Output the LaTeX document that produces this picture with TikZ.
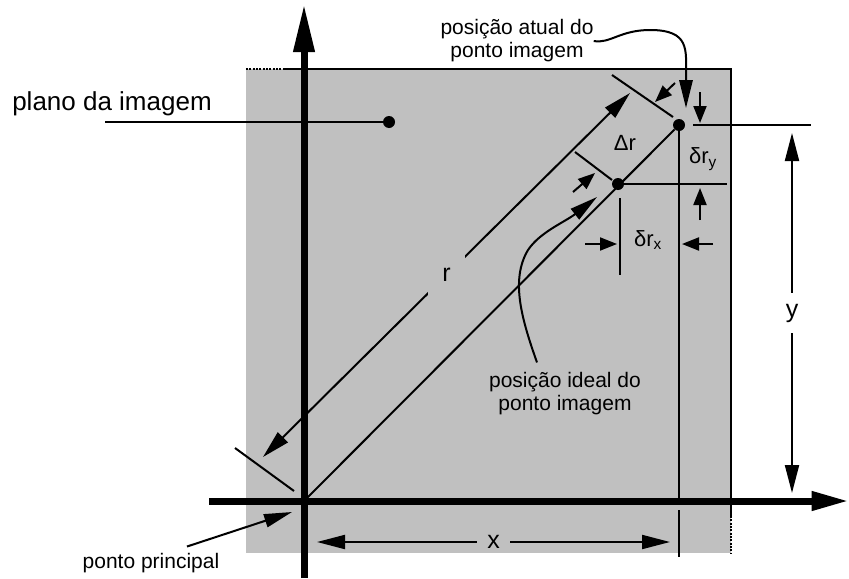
\documentclass[tikz,border=0pt]{standalone}
\usepackage{fontspec}
\setmainfont{Liberation Sans}
\usetikzlibrary{arrows.meta, calc}
\usepackage{xcolor}
\definecolor{planegray}{HTML}{C0C0C0}

\begin{document}
\begin{tikzpicture}[
      x=0.75pt, y=-0.75pt,
      every node/.style={font=\fontsize{15.75}{17.25}\selectfont, inner sep=0pt},
      fine/.style={line width=1.5pt},
      axisline/.style={line width=5.25pt},
      dimline/.style={fine, {Triangle[length=21pt, width=10.5pt]}-{Triangle[length=21pt, width=10.5pt]}},
      callout/.style={fine, -{Triangle[length=21pt, width=10pt]}},
      smallarrow/.style={fine, -{Triangle[length=12.75pt, width=9.75pt]}},
      dot/.style={circle, fill, minimum size=9pt},
      dimlabel/.style={font=\fontsize{18.75}{20}\selectfont},
      deltalabel/.style={font=\fontsize{16.5}{18}\selectfont},
    ]
    \useasboundingbox (0,0) rectangle (849,578);
    \fill[planegray] (246,69) rectangle (731,553);
    \draw[fine] (283,69) -- (731,69) -- (731,516);
    \draw[fine, densely dotted] (246,69) -- (283,69);
    \draw[fine, densely dotted] (731,516) -- (731,553);

    \coordinate (O) at (304,501);
    \coordinate (xstart) at (209,501);
    \coordinate (xend) at (849,501);
    \coordinate (ystart) at (304,578);
    \coordinate (yend) at (304,4);
    \draw[axisline, -{Triangle[length=28pt, width=13.5pt]}] (xstart) -- (xend);
    \draw[axisline, -{Triangle[length=36pt, width=15pt]}] (ystart) -- (yend);

    \node[dot] (actual) at (679,125) {};
    \node[dot] (ideal)  at (618,184) {};
    \node[dot] (plane)  at (389,122) {};
    \draw[fine] (O) -- (actual);

    \coordinate (tickOa) at (235,448);
    \coordinate (tickOb) at (294,491);
    \coordinate (tickAa) at (612,75);
    \coordinate (tickAb) at (673,117);
    \coordinate (tickIa) at (575,152);
    \coordinate (tickIb) at (612,180);
    \draw[fine] (tickOa) -- (tickOb);
    \draw[fine] (tickAa) -- (tickAb);
    \draw[fine] (tickIa) -- (tickIb);

    \coordinate (rlow)  at (263,457);
    \coordinate (rhigh) at (630,93);
    \draw[dimline] (rlow) -- (rhigh)
      node[midway, dimlabel, fill=planegray, inner xsep=11pt, inner ysep=10pt] (rlbl) {r};

    \coordinate (xdimL) at (317,542);
    \coordinate (xdimR) at (670,542);
    \draw[dimline] (xdimL) -- (xdimR)
      node[midway, dimlabel, fill=planegray, inner xsep=8pt, inner ysep=1pt] (xlbl) {x};

    \coordinate (ydimT) at (792,133);
    \coordinate (ydimB) at (792,493);
    \draw[dimline] (ydimT) -- (ydimB)
      node[midway, dimlabel, fill=white, inner xsep=1pt, inner ysep=8pt] (ylbl) {y};

    \coordinate (actualext)    at (693,125);
    \coordinate (actualextend) at (811,125);
    \coordinate (idealext)     at (727,184);
    \coordinate (idealdrop)    at (620,198);
    \coordinate (idealdropend) at (620,275);
    \coordinate (actualfoot)   at (679,501);
    \coordinate (xticka)       at (679,510);
    \coordinate (xtickb)       at (679,557);
    \draw[fine] (actualext) -- (actualextend);
    \draw[fine] (ideal) -- (idealext);
    \draw[fine] (idealdrop) -- (idealdropend);
    \draw[fine] (actual) -- (actualfoot);
    \draw[fine] (xticka) -- (xtickb);

    \coordinate (dya) at (700,92);
    \coordinate (dyb) at (700,123);
    \coordinate (dyc) at (700,220);
    \coordinate (dyd) at (700,188);
    \coordinate (dxa) at (585,244);
    \coordinate (dxb) at (617,244);
    \coordinate (dxc) at (713,244);
    \coordinate (dxd) at (682,244);
    \coordinate (dra) at (675,83);
    \coordinate (drb) at (655,102);
    \coordinate (drc) at (573,192);
    \coordinate (drd) at (595,173);
    \draw[smallarrow] (dya) -- (dyb);
    \draw[smallarrow] (dyc) -- (dyd);
    \draw[smallarrow] (dxa) -- (dxb);
    \draw[smallarrow] (dxc) -- (dxd);
    \draw[smallarrow] (dra) -- (drb);
    \draw[smallarrow] (drc) -- (drd);

    \node[deltalabel] (drlbl) at (625,143) {Δr};
    \node[deltalabel] (dylbl) at (703,159) {δr\textsubscript{y}};
    \node[deltalabel] (dxlbl) at (648,240) {δr\textsubscript{x}};

    \node[align=center] (atuallbl) at (517,41) {posição atual do\\ponto imagem};
    \coordinate (atualtip) at (686,108);
    \draw[callout] (atuallbl.east) .. controls (610,44) and (620,30) .. (650,30)
      .. controls (690,30) and (686,50) .. (686,75) -- (atualtip);

    \node[align=center] (ideallbl) at (565,394) {posição ideal do\\ponto imagem};
    \coordinate (idealtip) at (597,197);
    \draw[callout] ([xshift=-21pt, yshift=7.5pt]ideallbl.north)
      .. controls (522,320) and (510,280) .. (528,250)
      .. controls (540,232) and (565,222) .. (idealtip);

    \node[anchor=base] (pplbl) at (151,568) {ponto principal};
    \coordinate (pptip) at (292,512);
    \draw[callout] ([xshift=27pt, yshift=4.5pt]pplbl.north) -- (pptip);

    \node[anchor=base, font=\fontsize{19.5}{22}\selectfont] (planelbl) at (112,110) {plano da imagem};
    \coordinate (planeleader) at (105,122);
    \draw[fine] (planeleader) -- (plane);
  \end{tikzpicture}
\end{document}
